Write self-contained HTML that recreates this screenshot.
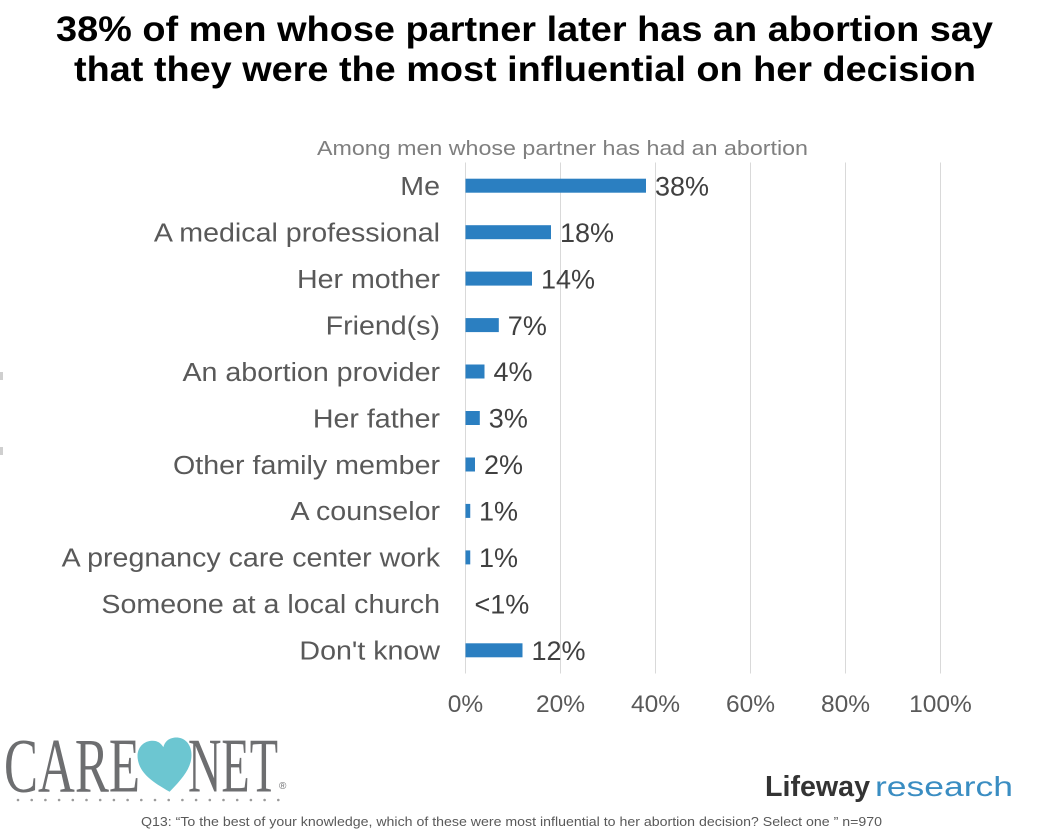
<!DOCTYPE html>
<html>
<head>
<meta charset="utf-8">
<style>
  html, body { margin:0; padding:0; background:#ffffff; }
  svg { display:block; }
  text { font-family: "Liberation Sans", Arial, sans-serif; }
</style>
</head>
<body>
<svg width="1042" height="834" viewBox="0 0 1042 834" xmlns="http://www.w3.org/2000/svg">
  <rect width="1042" height="834" fill="#ffffff"/>

  <!-- Title -->
  <text x="56" y="41" font-size="35" font-weight="bold" fill="#000" textLength="937" lengthAdjust="spacingAndGlyphs">38% of men whose partner later has an abortion say</text>
  <text x="74" y="81" font-size="35" font-weight="bold" fill="#000" textLength="902" lengthAdjust="spacingAndGlyphs">that they were the most influential on her decision</text>

  <!-- Subtitle -->
  <text x="317" y="155" font-size="20.5" fill="#7f7f7f" textLength="491" lengthAdjust="spacingAndGlyphs">Among men whose partner has had an abortion</text>

  <!-- Gridlines -->
  <g stroke="#d9d9d9" stroke-width="1">
    <line x1="465.5" y1="162.5" x2="465.5" y2="673.5"/>
    <line x1="560.5" y1="162.5" x2="560.5" y2="673.5"/>
    <line x1="655.5" y1="162.5" x2="655.5" y2="673.5"/>
    <line x1="750.5" y1="162.5" x2="750.5" y2="673.5"/>
    <line x1="845.5" y1="162.5" x2="845.5" y2="673.5"/>
    <line x1="940.5" y1="162.5" x2="940.5" y2="673.5"/>
  </g>

  <!-- Bars -->
  <g fill="#2b7fc1">
    <rect x="465.5" y="178.7" width="180.5" height="14"/>
    <rect x="465.5" y="225.2" width="85.5" height="14"/>
    <rect x="465.5" y="271.6" width="66.5" height="14"/>
    <rect x="465.5" y="318.1" width="33.3" height="14"/>
    <rect x="465.5" y="364.5" width="19" height="14"/>
    <rect x="465.5" y="411.0" width="14.3" height="14"/>
    <rect x="465.5" y="457.5" width="9.5" height="14"/>
    <rect x="465.5" y="503.9" width="4.75" height="14"/>
    <rect x="465.5" y="550.4" width="4.75" height="14"/>
    <rect x="465.5" y="643.3" width="57" height="14"/>
  </g>

  <!-- Value labels -->
  <g font-size="27" fill="#404040">
    <text x="655" y="195.4">38%</text>
    <text x="560" y="241.9">18%</text>
    <text x="541" y="288.3">14%</text>
    <text x="507.8" y="334.8">7%</text>
    <text x="493.5" y="381.2">4%</text>
    <text x="488.8" y="427.7">3%</text>
    <text x="484" y="474.2">2%</text>
    <text x="479" y="520.6">1%</text>
    <text x="479" y="567.1">1%</text>
    <text x="474.5" y="613.5">&lt;1%</text>
    <text x="531.5" y="660.0">12%</text>
  </g>

  <!-- Category labels -->
  <g transform="translate(440 0) scale(1.1 1)" font-size="26" fill="#595959" text-anchor="end">
    <text x="0" y="195.0">Me</text>
    <text x="0" y="241.5">A medical professional</text>
    <text x="0" y="287.9">Her mother</text>
    <text x="0" y="334.4">Friend(s)</text>
    <text x="0" y="380.8">An abortion provider</text>
    <text x="0" y="427.3">Her father</text>
    <text x="0" y="473.8">Other family member</text>
    <text x="0" y="520.2">A counselor</text>
    <text x="0" y="566.7">A pregnancy care center work</text>
    <text x="0" y="613.1">Someone at a local church</text>
    <text x="0" y="659.6">Don't know</text>
  </g>

  <!-- X tick labels -->
  <g font-size="24.5" fill="#595959" text-anchor="middle">
    <text x="465.5" y="712">0%</text>
    <text x="560.5" y="712">20%</text>
    <text x="655.5" y="712">40%</text>
    <text x="750.5" y="712">60%</text>
    <text x="845.5" y="712">80%</text>
    <text x="940.5" y="712">100%</text>
  </g>

  <!-- Left edge artifacts -->
  <rect x="0" y="372" width="3" height="8" fill="#cfcfcf"/>
  <rect x="0" y="447" width="3" height="8" fill="#cfcfcf"/>

  <!-- CareNet logo -->
  <text x="4" y="791.7" font-size="77" fill="#6d6e70" textLength="136" lengthAdjust="spacingAndGlyphs" style="font-family:'Liberation Serif',serif">CARE</text>
  <g transform="translate(139 739) rotate(-8 27 27)">
    <path d="M27,53 C10,40 0,30 0,16 C0,6 7,0 15,0 C21,0 25,3 27,8 C29,3 33,0 39,0 C47,0 54,6 54,16 C54,30 44,40 27,53 Z" fill="#6cc6d1"/>
  </g>
  <text x="188" y="791.7" font-size="77" fill="#6d6e70" textLength="90" lengthAdjust="spacingAndGlyphs" style="font-family:'Liberation Serif',serif">NET</text>
  <text x="279" y="789" font-size="10" fill="#6d6e70">®</text>
  <g fill="#9a9a9a">
    <circle cx="18" cy="800" r="1.3"/><circle cx="31.7" cy="800" r="1.3"/><circle cx="45.4" cy="800" r="1.3"/><circle cx="59.1" cy="800" r="1.3"/><circle cx="72.8" cy="800" r="1.3"/>
    <circle cx="86.5" cy="800" r="1.3"/><circle cx="100.2" cy="800" r="1.3"/><circle cx="113.9" cy="800" r="1.3"/><circle cx="127.6" cy="800" r="1.3"/><circle cx="141.3" cy="800" r="1.3"/>
    <circle cx="155" cy="800" r="1.3"/><circle cx="168.7" cy="800" r="1.3"/><circle cx="182.4" cy="800" r="1.3"/><circle cx="196.1" cy="800" r="1.3"/><circle cx="209.8" cy="800" r="1.3"/>
    <circle cx="223.5" cy="800" r="1.3"/><circle cx="237.2" cy="800" r="1.3"/><circle cx="250.9" cy="800" r="1.3"/><circle cx="264.6" cy="800" r="1.3"/><circle cx="278.3" cy="800" r="1.3"/>
  </g>

  <!-- Lifeway research logo -->
  <text x="765" y="796" font-size="29" font-weight="bold" fill="#333333" textLength="105" lengthAdjust="spacingAndGlyphs">Lifeway</text>
  <text x="875" y="796" font-size="28" fill="#3a8dc2" textLength="138" lengthAdjust="spacingAndGlyphs">research</text>

  <!-- Footnote -->
  <text x="141" y="826" font-size="13" fill="#595959" textLength="741" lengthAdjust="spacingAndGlyphs">Q13: “To the best of your knowledge, which of these were most influential to her abortion decision? Select one ” n=970</text>
</svg>
</body>
</html>
